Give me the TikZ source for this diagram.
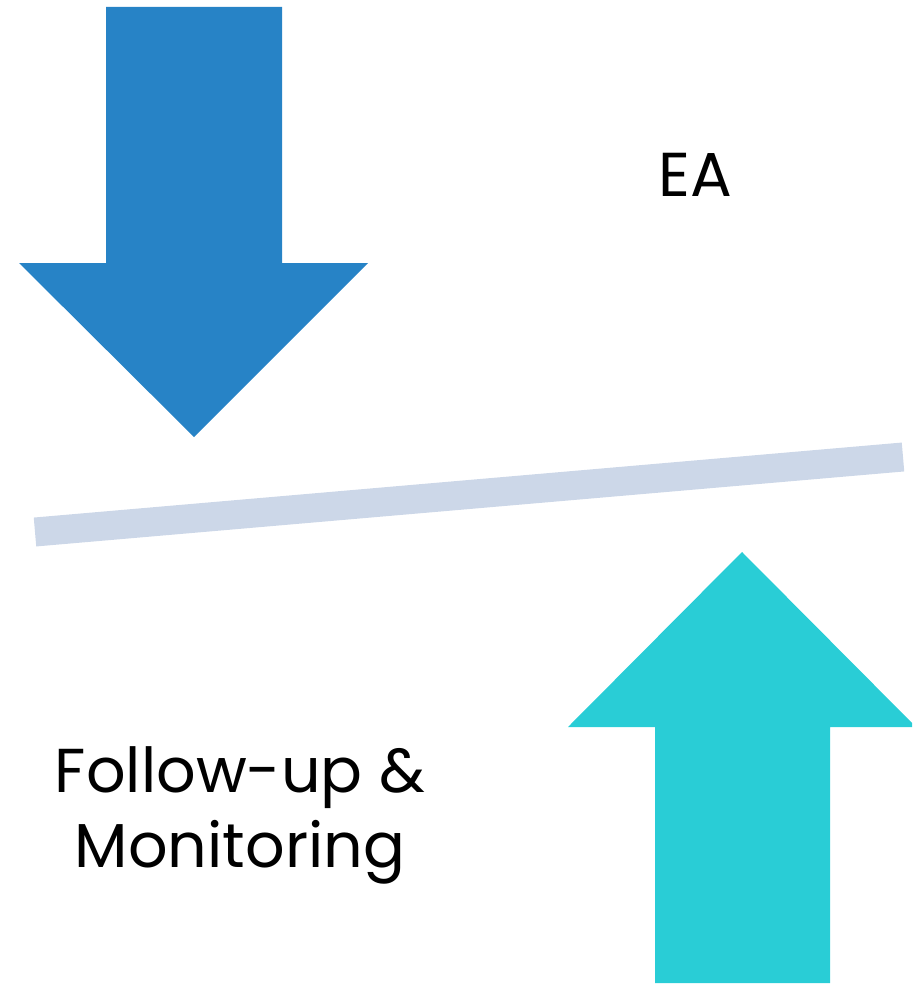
\documentclass[tikz,border=0pt]{standalone}
\usepackage{fontspec}
\setmainfont{Poppins}
\definecolor{downblue}{RGB}{39,131,198}
\definecolor{upcyan}{RGB}{41,205,214}
\definecolor{bandgray}{RGB}{204,215,232}
\tikzset{label text/.style={inner sep=0pt,anchor=base,font=\fontsize{62}{75}\selectfont}}
\begin{document}
\begin{tikzpicture}[x=1pt,y=-1pt]
\useasboundingbox (0,0) rectangle (912,984);
\clip (0,0) rectangle (912,984);
% arrow coming down
\fill[downblue] (106,7) -- (282,7) -- (282,263) -- (368,263) -- (194,437) -- (19,263) -- (106,263) -- cycle;
% the slanted bar
\draw[bandgray,line width=29pt] (35,532) -- (903,457);
% arrow going up
\fill[upcyan] (655,983) -- (830,983) -- (830,727) -- (916,727) -- (742,552) -- (568,727) -- (655,727) -- cycle;
\node[label text] (ea) at (695,197) {EA};
\node[label text,align=center] (followup) at (240,867) {Follow-up \&\\Monitoring};
\end{tikzpicture}
\end{document}
